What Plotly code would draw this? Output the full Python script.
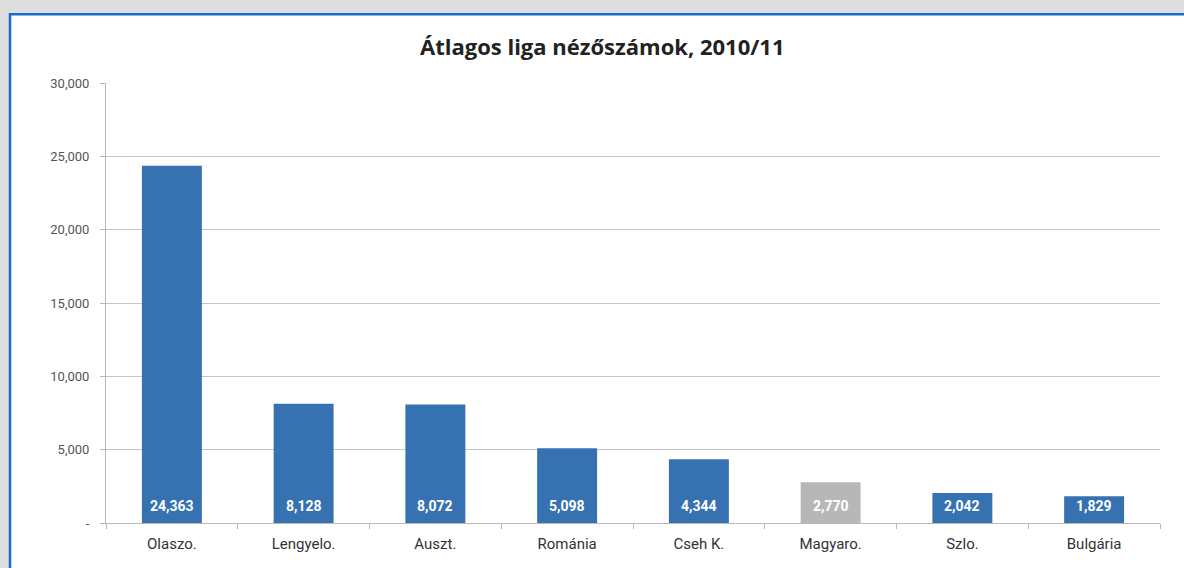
import plotly.graph_objects as go

categories = ["Olaszo.", "Lengyelo.", "Auszt.", "Románia", "Cseh K.", "Magyaro.", "Szlo.", "Bulgária"]
values = [24363, 8128, 8072, 5098, 4344, 2770, 2042, 1829]
bar_colors = ["#3672b1", "#3672b1", "#3672b1", "#3672b1", "#3672b1", "#b7b7b7", "#3672b1", "#3672b1"]
y_tickvals = [0, 5000, 10000, 15000, 20000, 25000, 30000]
y_ticktext = ["-", "5,000", "10,000", "15,000", "20,000", "25,000", "30,000"]
title_text = "Átlagos liga nézőszámok, 2010/11"

W, H = 1184, 568
L, R, T, B = 106, 24, 83, 45
pw, ph = W - L - R, H - T - B

def px_x(x):
    return (x - L) / pw

def px_y(y):
    return (H - B - y) / ph

fig = go.Figure()
fig.add_trace(go.Bar(
    x=categories,
    y=values,
    marker=dict(color=bar_colors, line=dict(width=0)),
    width=0.455,
    hoverinfo="x+y",
))

for c, v in zip(categories, values):
    fig.add_annotation(
        x=c, y=0, xref="x", yref="y", text=f"<b>{v:,}</b>",
        showarrow=False, xanchor="center", yanchor="bottom", yshift=7,
        font=dict(color="white", size=14, family="Roboto"),
    )

# white panel
fig.add_shape(
    type="rect", xref="paper", yref="paper", layer="below",
    x0=px_x(10), x1=px_x(1300), y0=px_y(700), y1=px_y(14.3),
    line=dict(width=0), fillcolor="white",
)
# blue border lines (top and left)
fig.add_shape(
    type="line", xref="paper", yref="paper", layer="below",
    x0=px_x(10), x1=px_x(1300), y0=px_y(14.3), y1=px_y(14.3),
    line=dict(color="#1b6ec8", width=2.5),
)
fig.add_shape(
    type="line", xref="paper", yref="paper", layer="below",
    x0=px_x(10), x1=px_x(10), y0=px_y(13), y1=px_y(700),
    line=dict(color="#1b6ec8", width=2.5),
)

fig.add_annotation(
    text=f"<b>{title_text}</b>", xref="paper", yref="paper",
    x=px_x(602), y=px_y(46), xanchor="center", yanchor="middle", showarrow=False,
    font=dict(family="Open Sans", size=22, color="#222222"),
)

fig.update_layout(
    width=W, height=H,
    margin=dict(l=L, r=R, t=T, b=B),
    paper_bgcolor="#dedede",
    plot_bgcolor="rgba(0,0,0,0)",
    showlegend=False,
    font=dict(family="Roboto", color="#444444"),
)
fig.update_xaxes(
    type="category",
    showline=True, linecolor="#b8b8b8", linewidth=1,
    ticks="outside", tickson="boundaries", ticklen=5, tickcolor="#b8b8b8",
    ticklabelstandoff=7,
    tickfont=dict(size=15, color="#333333", family="Roboto"),
    showgrid=False,
)
fig.update_yaxes(
    range=[0, 30000],
    tickvals=y_tickvals, ticktext=y_ticktext,
    showline=True, linecolor="#b8b8b8", linewidth=1,
    ticks="outside", ticklen=5, tickcolor="#b8b8b8",
    ticklabelstandoff=8,
    showgrid=True, gridcolor="#c4c4c4", gridwidth=1,
    zeroline=False,
    tickfont=dict(size=13, color="#555555", family="Roboto"),
)

fig.write_html(
    "out.html",
    config={"displayModeBar": False},
    post_script=("document.body.style.margin='0';"
                 "document.body.style.overflow='hidden';"
                 "document.documentElement.style.overflow='hidden';"
                 "document.body.style.background='#dedede';"),
)
